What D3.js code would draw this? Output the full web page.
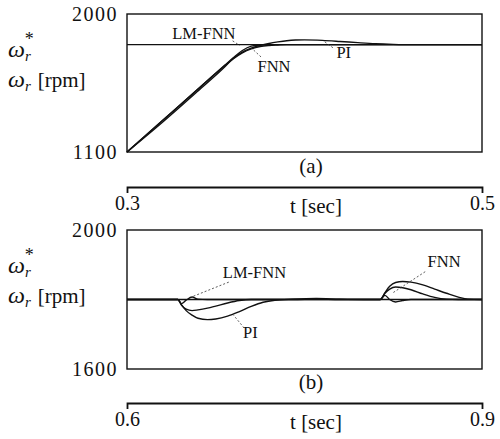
<!DOCTYPE html>
<html>
<head>
<meta charset="utf-8">
<script src="https://cdn.jsdelivr.net/npm/d3@7"></script>
<style>
  body { margin: 0; background: #fff; }
  svg, svg text { font-family: "Liberation Serif", "Times New Roman", "DejaVu Serif", serif; }
  .frame { fill: none; stroke: #111; stroke-width: 1.4; }
  .ref { fill: none; stroke: #111; stroke-width: 1.3; }
  .resp { fill: none; stroke: #111; stroke-width: 1.4; stroke-linejoin: round; }
  .lead { stroke: #333; stroke-width: 0.8; stroke-dasharray: 2 2; }
  .axis path { stroke: #111; stroke-width: 1.8; }
  .axis line { stroke: #111; }
  .axis text { font-size: 20px; fill: #111; }
  .lbl { font-size: 16.5px; fill: #111; }
  .big { font-size: 21px; fill: #111; }
</style>
</head>
<body>
<div id="chart"></div>
<script>
// ---- panel (a): speed step 1100 -> 1800 rpm, t in sec ----
const tA      = [0.300, 0.320, 0.340, 0.355, 0.360, 0.365, 0.370, 0.375, 0.380, 0.385, 0.390, 0.395, 0.400, 0.410, 0.420, 0.430, 0.440, 0.450, 0.460, 0.500];
const lmA     = [1100, 1305, 1510, 1665, 1716, 1762, 1790, 1798, 1800, 1800, 1800, 1800, 1800, 1800, 1800, 1800, 1800, 1800, 1800, 1800];
const fnnA    = [1100, 1305, 1510, 1662, 1708, 1746, 1772, 1788, 1795, 1798, 1800, 1800, 1800, 1800, 1800, 1800, 1800, 1800, 1800, 1800];
const piA     = [1100, 1294, 1498, 1654, 1712, 1752, 1778, 1795, 1808, 1818, 1826, 1830, 1831, 1828, 1821, 1813, 1806, 1802, 1800, 1800];
const refA    = 1800;
const yTicksA = [1100, 2000];
const xTicksA = [0.3, 0.5];

// ---- panel (b): load disturbance at 1800 rpm ----
const tB      = [0.600, 0.643, 0.646, 0.650, 0.655, 0.660, 0.668, 0.675, 0.685, 0.695, 0.705, 0.715, 0.725, 0.740, 0.760, 0.780, 0.800, 0.814, 0.818, 0.822, 0.827, 0.833, 0.840, 0.850, 0.860, 0.870, 0.880, 0.888, 0.900];
const piB     = [1800, 1800, 1785, 1768, 1755, 1746, 1742, 1744, 1752, 1765, 1780, 1792, 1798, 1801, 1803, 1801, 1800, 1800, 1820, 1838, 1849, 1852, 1850, 1842, 1830, 1818, 1807, 1801, 1800];
const fnnB    = [1800, 1800, 1784, 1772, 1768, 1770, 1775, 1781, 1790, 1797, 1800, 1800, 1800, 1800, 1801, 1800, 1800, 1800, 1818, 1830, 1836, 1834, 1828, 1816, 1806, 1801, 1800, 1800, 1800];
const lmB     = [1800, 1800, 1788, 1798, 1807, 1801, 1800, 1800, 1800, 1800, 1800, 1800, 1800, 1800, 1800, 1800, 1800, 1800, 1812, 1800, 1793, 1797, 1800, 1800, 1800, 1800, 1800, 1800, 1800];
const refB    = 1800;
const yTicksB = [1600, 2000];
const xTicksB = [0.6, 0.9];

const W = 500, H = 439;
const svg = d3.select("#chart").append("svg").attr("width", W).attr("height", H);

function panel(o) {
  const x = d3.scaleLinear(o.xDom, [127, 482]);
  const y = d3.scaleLinear(o.yDom, [o.bot, o.top]);

  svg.append("rect").attr("class", "frame")
    .attr("x", x.range()[0]).attr("y", o.top)
    .attr("width", x.range()[1] - x.range()[0]).attr("height", o.bot - o.top);

  svg.append("g").attr("class", "axis")
    .attr("transform", `translate(${x.range()[0] - 1},0)`)
    .call(d3.axisLeft(y).tickValues(o.yTicks).tickSize(0).tickPadding(8).tickFormat(d3.format("d")))
    .call(g => g.attr("font-family", null).select(".domain").remove())
    .selectAll("text").attr("letter-spacing", 1.5);

  // reference speed
  svg.append("line").attr("class", "ref")
    .attr("x1", x(o.xDom[0])).attr("x2", x(o.xDom[1]))
    .attr("y1", y(o.ref)).attr("y2", y(o.ref));

  const line = d3.line().x((_, i) => x(o.t[i])).y(v => y(v)).curve(d3.curveMonotoneX);
  for (const s of o.series) {
    svg.append("path").attr("class", "resp").attr("d", line(s));
  }

  // separate time axis below
  svg.append("g").attr("class", "axis")
    .attr("transform", `translate(0,${o.axisY})`)
    .call(d3.axisBottom(x).tickValues(o.xTicks).tickSizeInner(0).tickSizeOuter(6).tickPadding(9)
      .tickFormat(d3.format(".1f")))
    .attr("font-family", null);

  svg.append("text").attr("class", "big").attr("text-anchor", "middle")
    .attr("x", 316).attr("y", o.axisY + 26).text("t [sec]");
  svg.append("text").attr("class", "big").attr("text-anchor", "middle")
    .attr("x", 311).attr("y", o.axisY - 14).text(o.tag);

  // y label: omega_r^* / omega_r [rpm]
  const l1 = svg.append("text").attr("class", "big").attr("x", 8).attr("y", o.top + 43);
  l1.append("tspan").attr("font-style", "italic").attr("font-size", 24).text("ω");
  l1.append("tspan").attr("font-style", "italic").attr("font-size", 15).attr("dy", 4).text("r");
  l1.append("tspan").attr("font-size", 18).attr("dx", -6).attr("dy", -16).text("*");
  const l2 = svg.append("text").attr("class", "big").attr("x", 8).attr("y", o.top + 73);
  l2.append("tspan").attr("font-style", "italic").attr("font-size", 24).text("ω");
  l2.append("tspan").attr("font-style", "italic").attr("font-size", 15).attr("dy", 4).text("r");
  l2.append("tspan").attr("dy", -4).attr("dx", 7).text("[rpm]");

  // curve names with dashed leaders
  for (const a of o.notes) {
    svg.append("line").attr("class", "lead")
      .attr("x1", x(a.from[0])).attr("y1", y(a.from[1]))
      .attr("x2", x(a.to[0])).attr("y2", y(a.to[1]));
    svg.append("text").attr("class", "lbl").attr("x", x(a.at[0])).attr("y", y(a.at[1])).text(a.name);
  }
}

panel({
  xDom: [0.3, 0.5], yDom: [1100, 2000], top: 14, bot: 152, axisY: 187, tag: "(a)",
  yTicks: yTicksA, xTicks: xTicksA, ref: refA, t: tA, series: [piA, fnnA, lmA],
  notes: [
    { name: "LM-FNN", at: [0.3255, 1835], from: [0.3595, 1825], to: [0.3635, 1795] },
    { name: "FNN",    at: [0.3735, 1620], from: [0.3755, 1720], to: [0.3690, 1790] },
    { name: "PI",     at: [0.4180, 1715], from: [0.4160, 1780], to: [0.4110, 1822] }
  ]
});

panel({
  xDom: [0.6, 0.9], yDom: [1600, 2000], top: 230, bot: 369, axisY: 403, tag: "(b)",
  yTicks: yTicksB, xTicks: xTicksB, ref: refB, t: tB, series: [piB, fnnB, lmB],
  notes: [
    { name: "LM-FNN", at: [0.681, 1863], from: [0.686, 1850], to: [0.655, 1808] },
    { name: "PI",     at: [0.698, 1690], from: [0.699, 1718], to: [0.690, 1755] },
    { name: "FNN",    at: [0.854, 1893], from: [0.852, 1880], to: [0.825, 1820] }
  ]
});
</script>
</body>
</html>
